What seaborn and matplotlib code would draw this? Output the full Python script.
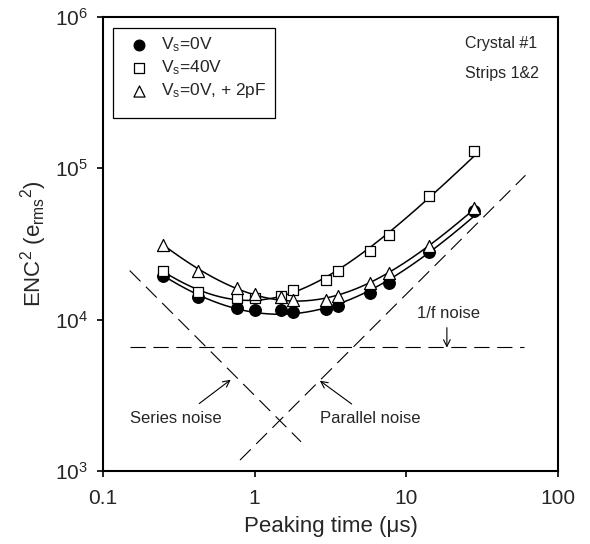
import numpy as np
import pandas as pd
import matplotlib
matplotlib.use("Agg")
import matplotlib.pyplot as plt
from matplotlib.patches import Rectangle
import seaborn as sns

# ---- data ----
tau = [0.25, 0.42, 0.77, 1.0, 1.5, 1.8, 2.94, 3.52, 5.8, 7.7, 14.1, 28.0]
enc_0v = [19500, 14100, 11900, 11600, 11500, 11200, 11800, 12400, 14900, 17400, 27900, 52100]
enc_40v = [20900, 15200, 13800, 14000, 14400, 15800, 18300, 21100, 28600, 36000, 65600, 130000]
enc_2pf = [31300, 21100, 16100, 14800, 14100, 13400, 13500, 14300, 17400, 20300, 30900, 55000]
series_labels = ["V$_\\mathregular{s}$=0V", "V$_\\mathregular{s}$=40V", "V$_\\mathregular{s}$=0V, + 2pF"]

# noise component lines (endpoints)
series_x = [0.15, 2.02]
series_y = [21100, 1560]
parallel_x = [0.80, 61.0]
parallel_y = [1180, 90000]
flicker_x = [0.15, 60.0]
flicker_y = [6560, 6560]

sns.set_style("ticks")
plt.rcParams["font.family"] = ["Liberation Sans", "DejaVu Sans"]
plt.rcParams["mathtext.fontset"] = "custom"
plt.rcParams["mathtext.rm"] = "Liberation Sans"
plt.rcParams["mathtext.it"] = "Liberation Sans:italic"
plt.rcParams["mathtext.default"] = "regular"
plt.rcParams["lines.scale_dashes"] = False

fig = plt.figure(figsize=(5.9, 5.44), dpi=100)
ax = fig.add_axes([0.1746, 0.1342, 0.7712, 0.8346])

rows = []
for lab, vals in zip(series_labels, [enc_0v, enc_40v, enc_2pf]):
    for t, v in zip(tau, vals):
        rows.append({"tau": t, "enc": v, "series": lab})
df = pd.DataFrame(rows)

markers = {series_labels[0]: "o", series_labels[1]: "s", series_labels[2]: "^"}
faces = ["black", "white", "white"]
sizes = [70, 55, 75]

# fitted curves ENC^2 = A/tau + B + C*tau (least squares, relative weights)
t = np.array(tau)
tt = np.geomspace(t.min(), t.max(), 200)
fit_rows = []
for lab, vals in zip(series_labels, [enc_0v, enc_40v, enc_2pf]):
    y = np.array(vals, dtype=float)
    M = np.vstack([1 / t, np.ones_like(t), t]).T / y[:, None]
    coef, *_ = np.linalg.lstsq(M, np.ones_like(y), rcond=None)
    yy = coef[0] / tt + coef[1] + coef[2] * tt
    for a, b in zip(tt, yy):
        fit_rows.append({"tau": a, "enc": b, "series": lab})
fit_df = pd.DataFrame(fit_rows)
sns.lineplot(data=fit_df, x="tau", y="enc", units="series", estimator=None,
             color="black", lw=1.1, ax=ax, legend=False, zorder=2)

handles = []
for lab, fc, s in zip(series_labels, faces, sizes):
    sub = df[df["series"] == lab]
    sns.scatterplot(data=sub, x="tau", y="enc", marker=markers[lab], s=s,
                    facecolor=fc, edgecolor="black", linewidth=0.9, ax=ax,
                    zorder=3, legend=False)
    h = ax.scatter([], [], marker=markers[lab], s=s * 0.85, facecolor=fc,
                   edgecolor="black", linewidth=0.9, label=lab)
    handles.append(h)

dash = (0, (11, 5.5))
ax.plot(series_x, series_y, color="black", lw=0.8, linestyle=dash)
ax.plot(parallel_x, parallel_y, color="black", lw=0.8, linestyle=dash)
ax.plot(flicker_x, flicker_y, color="black", lw=0.8, linestyle=dash)

ax.set_xscale("log")
ax.set_yscale("log")
ax.set_xlim(0.1, 100)
ax.set_ylim(1e3, 1e6)
ax.set_xticks([0.1, 1, 10, 100])
ax.set_xticklabels(["0.1", "1", "10", "100"])
ax.set_yticks([1e3, 1e4, 1e5, 1e6])
ax.minorticks_off()
ax.tick_params(axis="both", which="major", direction="out", length=4,
               width=1.2, labelsize=15, color="black")
ax.tick_params(axis="x", pad=9)
ax.tick_params(axis="y", pad=7)
for sp in ax.spines.values():
    sp.set_linewidth(1.5)
    sp.set_color("black")
    sp.set_visible(True)

ax.set_xlabel("Peaking time (μs)", fontsize=16, labelpad=6)
ax.set_ylabel("ENC$^{2}$ (e$_{rms}$$^{2}$)", fontsize=16, labelpad=4)

# annotations
ax.text(24.3, 673000, "Crystal #1", fontsize=11.5, ha="left", va="center")
ax.text(24.3, 426000, "Strips 1&2", fontsize=11.5, ha="left", va="center")
ax.text(18.9, 10970, "1/f noise", fontsize=12, ha="center", va="center")
ax.text(0.301, 2210, "Series noise", fontsize=12, ha="center", va="center")
ax.text(5.76, 2210, "Parallel noise", fontsize=12, ha="center", va="center")
arr = dict(arrowstyle="->", lw=0.8, color="black", shrinkA=0, shrinkB=0,
           mutation_scale=12)
ax.annotate("", xy=(18.5, 6530), xytext=(18.5, 8850), arrowprops=arr)
ax.annotate("", xy=(0.695, 4010), xytext=(0.431, 2790), arrowprops=arr)
ax.annotate("", xy=(2.69, 3950), xytext=(4.36, 2770), arrowprops=arr)

leg = ax.legend(handles=handles, loc="upper left", bbox_to_anchor=(0.04, 0.975),
                frameon=False, fontsize=12.5, handletextpad=0.7,
                labelspacing=0.25, borderaxespad=0, handlelength=1.2)
ax.add_patch(Rectangle((0.022, 0.778), 0.356, 0.198, transform=ax.transAxes,
                       fill=False, edgecolor="black", lw=0.9, zorder=5))

fig.savefig("out.png", dpi=100)
